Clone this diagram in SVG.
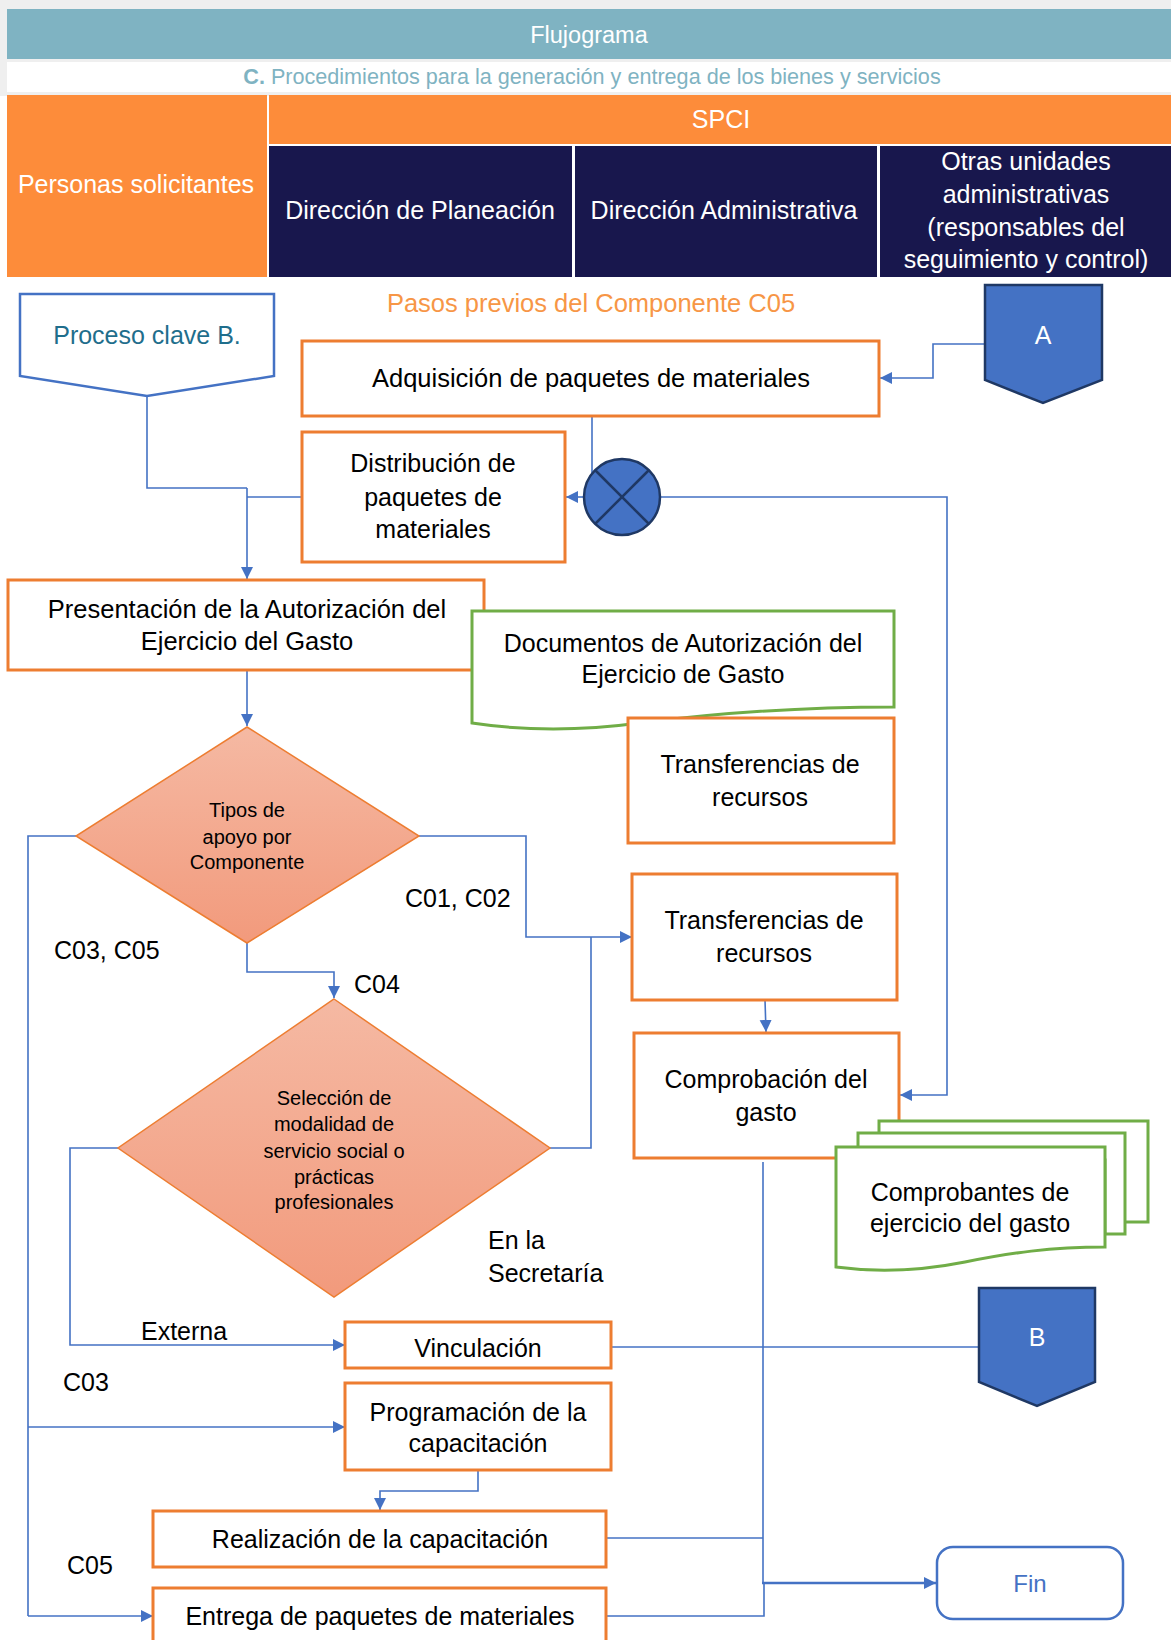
<svg xmlns="http://www.w3.org/2000/svg" width="1171" height="1640" viewBox="0 0 1171 1640">
<defs>
<style>
text{font-family:"Liberation Sans",Arial,sans-serif;}
.hd{fill:#fff;font-size:25px;text-anchor:middle;}
.t{fill:#000;font-size:25px;text-anchor:middle;}
.ts{fill:#000;font-size:20px;text-anchor:middle;}
.lb{fill:#000;font-size:25px;}
.box{fill:#fff;stroke:#ED7D31;stroke-width:3;}
.doc{fill:#fff;stroke:#70AD47;stroke-width:3;}
.dia{fill:url(#dg);stroke:#ED7D31;stroke-width:1.5;}
.off{fill:#4472C4;stroke:#1F3864;stroke-width:2.5;}
.c{fill:none;stroke:#4472C4;stroke-width:1.6;}
.ca{fill:none;stroke:#4472C4;stroke-width:1.6;marker-end:url(#ah);}
</style>
<linearGradient id="dg" x1="0" y1="0" x2="0" y2="1">
<stop offset="0" stop-color="#F5B9A3"/>
<stop offset="1" stop-color="#F29A7C"/>
</linearGradient>
<marker id="ah" markerUnits="userSpaceOnUse" markerWidth="14" markerHeight="14" refX="12" refY="6" orient="auto">
<path d="M0,0 L12,6 L0,12 z" fill="#4472C4"/>
</marker>
</defs>
<rect x="0" y="0" width="1171" height="1640" fill="#fff"/>
<g id="header">
<rect x="0" y="0" width="1171" height="96" fill="#EFEFEF"/>
<rect x="7" y="9" width="1164" height="50" fill="#7FB3C2"/>
<text x="589" y="43" class="hd" style="font-size:23.5px">Flujograma</text>
<rect x="7" y="62" width="1164" height="30" fill="#fff"/>
<text x="592" y="84" style="font-size:21.6px;text-anchor:middle;fill:#7FB3C2"><tspan font-weight="bold">C.</tspan> Procedimientos para la generación y entrega de los bienes y servicios</text>
<rect x="7" y="95" width="260" height="182" fill="#FD8C3A"/>
<text x="136" y="193" class="hd">Personas solicitantes</text>
<rect x="269" y="95" width="902" height="49" fill="#FD8C3A"/>
<text x="721" y="128" class="hd">SPCI</text>
<rect x="269" y="146" width="303" height="131" fill="#18174D"/>
<text x="420" y="219" class="hd">Dirección de Planeación</text>
<rect x="575" y="146" width="302" height="131" fill="#18174D"/>
<text x="724" y="219" class="hd">Dirección Administrativa</text>
<rect x="880" y="146" width="291" height="131" fill="#18174D"/>
<text x="1026" y="170" class="hd">Otras unidades</text>
<text x="1026" y="203" class="hd">administrativas</text>
<text x="1026" y="236" class="hd">(responsables del</text>
<text x="1026" y="268" class="hd">seguimiento y control)</text>
</g>
<text x="591" y="312" style="font-size:25.5px;text-anchor:middle;fill:#F79646">Pasos previos del Componente C05</text>
<g id="connectors">
<polyline class="c" points="147,396 147,488 247,488"/>
<polyline class="c" points="302,497 247,497"/>
<polyline class="ca" points="247,488 247,579"/>
<polyline class="ca" points="985,344 933,344 933,378 880,378"/>
<polyline class="c" points="592,416 592,474"/>
<polyline class="ca" points="584,497 566,497"/>
<polyline class="ca" points="660,497 947,497 947,1095 900,1095"/>
<polyline class="ca" points="247,670 247,726"/>
<polyline class="ca" points="419,836 526,836 526,937 632,937"/>
<polyline class="c" points="550,1148 591,1148 591,937"/>
<polyline class="ca" points="247,943 247,972 334,972 334,998"/>
<polyline class="c" points="76,836 28,836 28,1616"/>
<polyline class="ca" points="28,1427 345,1427"/>
<polyline class="ca" points="28,1616 153,1616"/>
<polyline class="ca" points="118,1148 70,1148 70,1345 345,1345"/>
<polyline class="ca" points="765,1000 766,1032"/>
<polyline class="ca" points="478,1470 478,1491 380,1491 380,1510"/>
<polyline class="c" points="611,1347 979,1347"/>
<polyline class="c" points="763,1162 763,1583"/>
<polyline class="c" points="606,1538 763,1538"/>
<polyline class="c" points="606,1616 764,1616 764,1583"/>
<polyline class="ca" style="stroke-width:2.5" points="762,1583 936,1583"/>
</g>
<g id="proceso-clave-b">
<path d="M20,294 H274 V376 L147,396 L20,376 Z" fill="#fff" stroke="#4472C4" stroke-width="2.5"/>
<text x="147" y="344" style="font-size:25px;text-anchor:middle;fill:#1F6E8C">Proceso clave B.</text>
</g>
<g id="conector-a">
<path class="off" d="M985,285 H1102 V380 L1043,403 L985,380 Z"/>
<text x="1043" y="344" class="hd">A</text>
</g>
<g id="adquisicion">
<rect class="box" x="302" y="341" width="577" height="75"/>
<text x="591" y="387" class="t" style="font-size:25.5px">Adquisición de paquetes de materiales</text>
</g>
<g id="distribucion">
<rect class="box" x="302" y="432" width="263" height="130"/>
<text x="433" y="472" class="t">Distribución de</text>
<text x="433" y="506" class="t">paquetes de</text>
<text x="433" y="538" class="t">materiales</text>
</g>
<g id="union">
<circle cx="622" cy="497" r="38" fill="#4472C4" stroke="#1F3864" stroke-width="2.5"/>
<line x1="595" y1="470" x2="649" y2="524" stroke="#1F3864" stroke-width="2.5"/>
<line x1="649" y1="470" x2="595" y2="524" stroke="#1F3864" stroke-width="2.5"/>
</g>
<g id="presentacion">
<rect class="box" x="8" y="580" width="476" height="90"/>
<text x="247" y="618" class="t" style="font-size:25.5px">Presentación de la Autorización del</text>
<text x="247" y="650" class="t" style="font-size:25.5px">Ejercicio del Gasto</text>
</g>
<g id="documentos">
<path class="doc" d="M472,611 H894 V707 C790,707 710,714 640,723 C580,731 525,731 472,723 Z"/>
<text x="683" y="652" class="t">Documentos de Autorización del</text>
<text x="683" y="683" class="t">Ejercicio de Gasto</text>
</g>
<g id="transferencias-1">
<rect class="box" x="628" y="718" width="266" height="125"/>
<text x="760" y="773" class="t">Transferencias de</text>
<text x="760" y="806" class="t">recursos</text>
</g>
<g id="tipos-apoyo">
<path class="dia" d="M247,727 L419,836 L247,943 L76,836 Z"/>
<text x="247" y="817" class="ts">Tipos de</text>
<text x="247" y="844" class="ts">apoyo por</text>
<text x="247" y="869" class="ts">Componente</text>
</g>
<g id="transferencias-2">
<rect class="box" x="632" y="874" width="265" height="126"/>
<text x="764" y="929" class="t">Transferencias de</text>
<text x="764" y="962" class="t">recursos</text>
</g>
<g id="comprobacion">
<rect class="box" x="634" y="1033" width="265" height="125"/>
<text x="766" y="1088" class="t">Comprobación del</text>
<text x="766" y="1121" class="t">gasto</text>
</g>
<g id="comprobantes">
<path class="doc" d="M879,1121 H1148 V1222 H1120 V1160 H879 Z"/>
<path class="doc" d="M858,1133 H1125 V1234 H1105 V1160 H858 Z"/>
<path class="doc" d="M836,1147 H1105 V1247 C1050,1247 1010,1253 965,1262 C920,1271 880,1273 836,1267 Z"/>
<text x="970" y="1201" class="t">Comprobantes de</text>
<text x="970" y="1232" class="t">ejercicio del gasto</text>
</g>
<g id="seleccion">
<path class="dia" d="M334,999 L550,1148 L334,1297 L118,1148 Z"/>
<text x="334" y="1105" class="ts">Selección de</text>
<text x="334" y="1131" class="ts">modalidad de</text>
<text x="334" y="1158" class="ts">servicio social o</text>
<text x="334" y="1184" class="ts">prácticas</text>
<text x="334" y="1209" class="ts">profesionales</text>
</g>
<g id="labels">
<text x="405" y="907" class="lb">C01, C02</text>
<text x="54" y="959" class="lb">C03, C05</text>
<text x="354" y="993" class="lb">C04</text>
<text x="488" y="1249" class="lb">En la</text>
<text x="488" y="1282" class="lb">Secretaría</text>
<text x="141" y="1340" class="lb">Externa</text>
<text x="63" y="1391" class="lb">C03</text>
<text x="67" y="1574" class="lb">C05</text>
</g>
<g id="vinculacion">
<rect class="box" x="345" y="1322" width="266" height="46"/>
<text x="478" y="1357" class="t">Vinculación</text>
</g>
<g id="programacion">
<rect class="box" x="345" y="1383" width="266" height="87"/>
<text x="478" y="1421" class="t">Programación de la</text>
<text x="478" y="1452" class="t">capacitación</text>
</g>
<g id="realizacion">
<rect class="box" x="153" y="1511" width="453" height="56"/>
<text x="380" y="1548" class="t">Realización de la capacitación</text>
</g>
<g id="entrega">
<rect class="box" x="153" y="1588" width="453" height="70"/>
<text x="380" y="1625" class="t">Entrega de paquetes de materiales</text>
</g>
<g id="conector-b">
<path class="off" d="M979,1288 H1095 V1382 L1037,1406 L979,1382 Z"/>
<text x="1037" y="1346" class="hd">B</text>
</g>
<g id="fin">
<rect x="937" y="1547" width="186" height="72" rx="16" fill="#fff" stroke="#4472C4" stroke-width="2.5"/>
<text x="1030" y="1592" style="font-size:24px;text-anchor:middle;fill:#4472C4">Fin</text>
</g>
</svg>
